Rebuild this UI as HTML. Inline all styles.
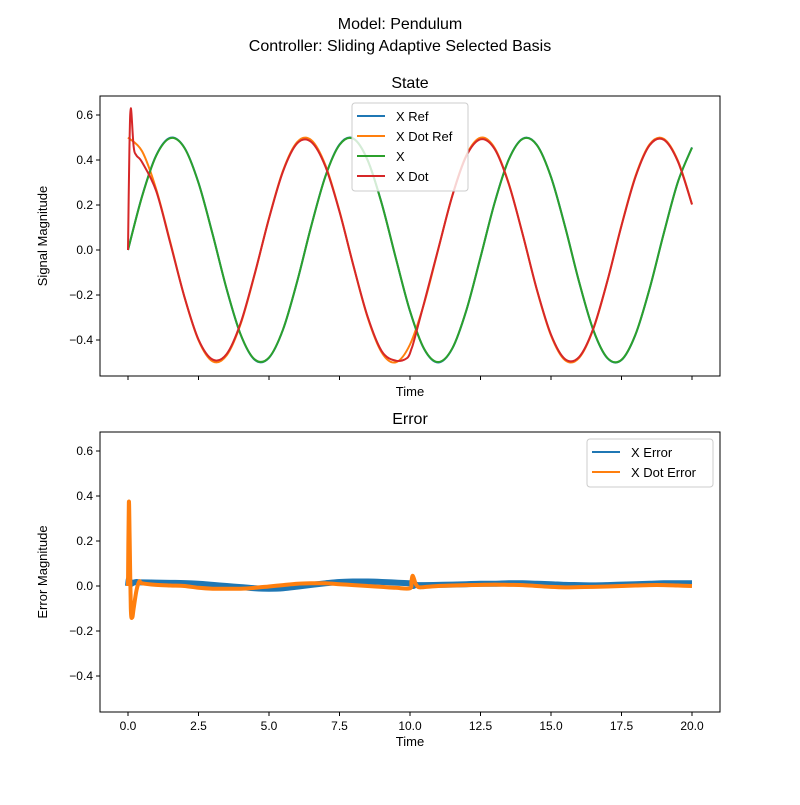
<!DOCTYPE html>
<html><head><meta charset="utf-8"><style>
html,body{margin:0;padding:0;background:#fff}
svg{font-family:"Liberation Sans","DejaVu Sans",sans-serif}
</style></head><body>
<svg id="c" width="800" height="800" viewBox="0 0 800 800" xmlns="http://www.w3.org/2000/svg">
<rect width="800" height="800" fill="#fff"/>
<text x="400" y="29" font-size="16" text-anchor="middle">Model: Pendulum</text>
<text x="400" y="51" font-size="16" text-anchor="middle">Controller: Sliding Adaptive Selected Basis</text>
<g id="top"></g>
<g id="bot"></g>
</svg>
<script>
const tGrid=[0,0.5,1,1.5,2,2.5,3,3.5,4,4.5,5,5.5,6,6.5,7,7.5,8,8.5,9,9.5,10,10.5,11,11.5,12,12.5,13,13.5,14,14.5,15,15.5,16,16.5,17,17.5,18,18.5,19,19.5,20];
const xRef=[0,.240,.421,.499,.455,.299,.071,-.175,-.378,-.489,-.479,-.353,-.140,.108,.328,.469,.495,.399,.206,-.038,-.272,-.440,-.500,-.438,-.268,-.033,.210,.402,.495,.467,.325,.104,-.144,-.356,-.481,-.489,-.375,-.171,.075,.303,.456];
const xDotRef=[.5,.439,.270,.035,-.208,-.401,-.495,-.468,-.327,-.105,.142,.354,.480,.488,.377,.173,-.073,-.301,-.456,-.499,-.420,-.238,.002,.242,.422,.499,.454,.297,.068,-.178,-.380,-.490,-.479,-.352,-.138,.110,.330,.470,.494,.397,.204];
const xAct=[0,.238,.419,.497,.454,.298,.070,-.174,-.377,-.487,-.478,-.352,-.139,.107,.327,.467,.494,.398,.205,-.037,-.271,-.439,-.498,-.437,-.267,-.032,.209,.401,.494,.466,.324,.103,-.143,-.355,-.480,-.488,-.374,-.170,.074,.302,.455];
const tDot=[0,0.05,0.1,0.2,0.3,0.5,1,1.5,2,2.5,3,3.5,4,4.5,5,5.5,6,6.5,7,7.5,8,8.5,9,9.5,9.9,10.05,10.15,10.5,11,11.5,12,12.5,13,13.5,14,14.5,15,15.5,16,16.5,17,17.5,18,18.5,19,19.5,20];
const xDot=[0,.45,.63,.46,.42,.39,.262,.030,-.208,-.398,-.487,-.462,-.322,-.102,.140,.350,.474,.480,.371,.170,-.072,-.297,-.450,-.492,-.480,-.44,-.40,-.235,.004,.240,.418,.492,.449,.294,.068,-.176,-.376,-.485,-.475,-.349,-.137,.108,.326,.466,.490,.393,.202];
const tErr=[0,0.03,0.06,0.1,0.15,0.2,0.3,0.4,0.5,1,1.5,2,2.5,3,3.5,4,4.5,5,5.5,6,6.5,7,7.5,8,8.5,9,9.5,10,10.05,10.1,10.2,10.3,10.5,11,11.5,12,12.5,13,13.5,14,14.5,15,15.5,16,16.5,17,17.5,18,18.5,19,19.5,20];
const xErr=[0,.03,.02,.01,.012,.015,.018,.016,.016,.015,.014,.013,.01,.005,0,-.005,-.01,-.012,-.01,-.003,.005,.012,.018,.02,.02,.018,.015,.012,.01,0,.005,.004,.004,.005,.006,.008,.01,.01,.012,.012,.01,.008,.005,.004,.003,.004,.006,.008,.01,.012,.012,.012];
const xDotErr=[0,.37,.2,-.1,-.14,-.1,-.02,.02,.012,.005,.002,0,-.008,-.012,-.012,-.012,-.008,-.002,.004,.01,.012,.012,.008,.004,0,-.004,-.008,-.01,.02,.045,.01,-.005,-.005,0,.002,.004,.005,.006,.005,.004,0,-.004,-.006,-.005,-.004,-.002,0,.002,.004,.004,.002,0];
const xTicks=[0,2.5,5,7.5,10,12.5,15,17.5,20];
const yTicks=[-0.4,-0.2,0,0.2,0.4,0.6];
const xTickLabels=["0.0","2.5","5.0","7.5","10.0","12.5","15.0","17.5","20.0"];
const yTickLabels=["−0.4","−0.2","0.0","0.2","0.4","0.6"];
const NS="http://www.w3.org/2000/svg";
const L=100,R=720;
const sx=t=>128+t*(692-128)/20;
function mk(tag,attrs,parent){const e=document.createElementNS(NS,tag);for(const k in attrs)e.setAttribute(k,attrs[k]);parent.appendChild(e);return e;}
function smooth(pts){let d="M"+pts[0][0].toFixed(2)+","+pts[0][1].toFixed(2);
 for(let i=0;i<pts.length-1;i++){const p0=pts[Math.max(0,i-1)],p1=pts[i],p2=pts[i+1],p3=pts[Math.min(pts.length-1,i+2)];
 const c1=[p1[0]+(p2[0]-p0[0])/6,p1[1]+(p2[1]-p0[1])/6],c2=[p2[0]-(p3[0]-p1[0])/6,p2[1]-(p3[1]-p1[1])/6];
 d+="C"+c1[0].toFixed(2)+","+c1[1].toFixed(2)+" "+c2[0].toFixed(2)+","+c2[1].toFixed(2)+" "+p2[0].toFixed(2)+","+p2[1].toFixed(2);}return d;}
function panel(g,top,title,ylabel,showX,series,legend){
 const bot=top+280,y0=top+154,sy=v=>y0-v*225;
 const t=mk("text",{x:410,y:top-8,"font-size":16,"text-anchor":"middle"},g);t.textContent=title;
 
 
 for(const s of series){const p=mk("path",{d:smooth(s.t.map((v,i)=>[sx(v),sy(s.v[i])])),fill:"none",stroke:s.c,"stroke-width":s.w,"stroke-linejoin":"round"},g);
  
  }
 const fr=mk("rect",{x:L,y:top,width:R-L,height:280,fill:"none",stroke:"#000","stroke-width":1},g);
 
 
 xTicks.forEach((v,i)=>{mk("line",{x1:sx(v),x2:sx(v),y1:bot,y2:bot+4,stroke:"#000"},g);
  if(showX){const tx=mk("text",{x:sx(v),y:bot+18,"font-size":12,"text-anchor":"middle"},g);tx.textContent=xTickLabels[i];
   
   }});
 yTicks.forEach((v,i)=>{mk("line",{x1:L-4,x2:L,y1:sy(v),y2:sy(v),stroke:"#000"},g);
  const ty=mk("text",{x:L-7,y:sy(v)+4,"font-size":12,"text-anchor":"end"},g);ty.textContent=yTickLabels[i];
  
  });
 const xl=mk("text",{x:410,y:bot+(showX?34:20),"font-size":13,"text-anchor":"middle"},g);xl.textContent="Time";
 
 
 const yl=mk("text",{x:0,y:0,"font-size":13,"text-anchor":"middle",transform:`translate(47,${top+140}) rotate(-90)`},g);yl.textContent=ylabel;
 
 
 const lg=mk("g",{},g);
 
 
 mk("rect",{x:legend.x,y:legend.y,width:legend.w,height:legend.items.length*20+8,rx:3,fill:"#fff","fill-opacity":0.8,stroke:"#ccc"},lg);
 legend.items.forEach((it,i)=>{const yy=legend.y+13+i*20;
  mk("line",{x1:legend.x+5,x2:legend.x+33,y1:yy,y2:yy,stroke:it[1],"stroke-width":2},lg);
  const lt=mk("text",{x:legend.x+44,y:yy+5,"font-size":13},lg);lt.textContent=it[0];
  
  });
}
panel(document.getElementById("top"),96,"State","Signal Magnitude",false,[
 {t:tGrid,v:xRef,c:"#1f77b4",w:2,name:"x-ref-line"},
 {t:tGrid,v:xDotRef,c:"#ff7f0e",w:2,name:"x-dot-ref-line"},
 {t:tGrid,v:xAct,c:"#2ca02c",w:2,name:"x-line"},
 {t:tDot,v:xDot,c:"#d62728",w:2,name:"x-dot-line"}],
 {x:352,y:103,w:116,items:[["X Ref","#1f77b4"],["X Dot Ref","#ff7f0e"],["X","#2ca02c"],["X Dot","#d62728"]]});
panel(document.getElementById("bot"),432,"Error","Error Magnitude",true,[
 {t:tErr,v:xErr,c:"#1f77b4",w:6,name:"x-error-line"},
 {t:tErr,v:xDotErr,c:"#ff7f0e",w:4,name:"x-dot-error-line"}],
 {x:587,y:439,w:126,items:[["X Error","#1f77b4"],["X Dot Error","#ff7f0e"]]});
</script>
</body></html>
